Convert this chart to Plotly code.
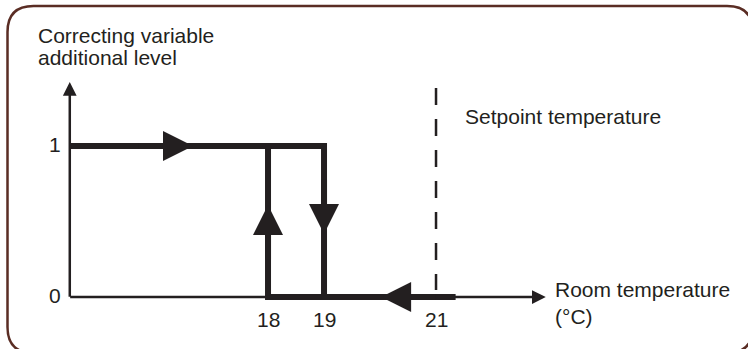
import plotly.graph_objects as go

W, H = 748, 349
FONT = "Liberation Sans, Arial, Helvetica, sans-serif"
INK = "#231f20"
FRAME = "#5a2d24"

# axis ranges picked so 1 °C = 56 px and one level = 151 px on the canvas
X_RANGE = [13.214, 26.571]
Y_RANGE = [-0.3444, 1.9669]

level_ticks = [0, 1]
level_labels = ["0", "1"]
temp_ticks = [18, 19, 21]
temp_labels = ["18", "19", "21"]

axis_x0 = 14.46        # where the level axis stands
x_axis_end = 22.96
y_axis_end = 1.424

# hysteresis loop
upper_x = [14.46, 19, 19]
upper_y = [1, 1, 0]
lower_x = [18, 18, 21.35]
lower_y = [1, 0, 0]

setpoint_x = [21, 21]
setpoint_y = [1.384, 0.046]

# direction arrows on the loop (tip position + direction)
arrow_x = [16.66, 18, 19, 20.02]
arrow_y = [1, 0.609, 0.417, 0]
arrow_dir = ["right", "up", "down", "left"]


def px(x):
    return x / W


def py(y):
    return 1 - y / H


def rounded_rect(x0, y0, x1, y1, r):
    pts = [
        f"M{px(x0 + r)},{py(y0)}", f"L{px(x1 - r)},{py(y0)}",
        f"Q{px(x1)},{py(y0)} {px(x1)},{py(y0 + r)}", f"L{px(x1)},{py(y1 - r)}",
        f"Q{px(x1)},{py(y1)} {px(x1 - r)},{py(y1)}", f"L{px(x0 + r)},{py(y1)}",
        f"Q{px(x0)},{py(y1)} {px(x0)},{py(y1 - r)}", f"L{px(x0)},{py(y0 + r)}",
        f"Q{px(x0)},{py(y0)} {px(x0 + r)},{py(y0)}", "Z",
    ]
    return " ".join(pts)


fig = go.Figure()

thick = dict(color=INK, width=6)
fig.add_trace(go.Scatter(x=upper_x, y=upper_y, mode="lines", line=thick, hoverinfo="skip"))
fig.add_trace(go.Scatter(x=lower_x, y=lower_y, mode="lines", line=thick, hoverinfo="skip"))
fig.add_trace(go.Scatter(x=setpoint_x, y=setpoint_y, mode="lines",
                         line=dict(color=INK, width=2.5, dash="17px,14px"), hoverinfo="skip"))

annotations = []

# axes drawn as arrows
annotations.append(dict(x=axis_x0, y=y_axis_end, ax=axis_x0, ay=-0.008,
                        xref="x", yref="y", axref="x", ayref="y", text="",
                        showarrow=True, arrowhead=2, arrowsize=1.1, arrowwidth=2.5,
                        arrowcolor=INK))
annotations.append(dict(x=x_axis_end, y=0, ax=axis_x0 - 0.02, ay=0,
                        xref="x", yref="y", axref="x", ayref="y", text="",
                        showarrow=True, arrowhead=2, arrowsize=1.1, arrowwidth=2.5,
                        arrowcolor=INK))

tail = {"right": (-1.0, 0), "left": (1.0, 0), "up": (0, -0.37), "down": (0, 0.37)}
for x, y, d in zip(arrow_x, arrow_y, arrow_dir):
    dx, dy = tail[d]
    annotations.append(dict(x=x, y=y, ax=x + dx, ay=y + dy,
                            xref="x", yref="y", axref="x", ayref="y", text="",
                            showarrow=True, arrowhead=2, arrowsize=1.0, arrowwidth=6,
                            arrowcolor=INK))

label_font = dict(family=FONT, size=21, color=INK)

for v, t in zip(level_ticks, level_labels):
    annotations.append(dict(x=px(63), y=v + 0.012, xref="paper", yref="y", text=t,
                            showarrow=False, xanchor="right", yanchor="middle",
                            font=label_font))
for v, t in zip(temp_ticks, temp_labels):
    annotations.append(dict(x=v, y=-0.146, xref="x", yref="y", text=t,
                            showarrow=False, xanchor="center", yanchor="middle",
                            font=label_font))

texts = [
    ("Correcting variable", 36, 35),
    ("additional level", 36, 57),
    ("Setpoint temperature", 463, 116),
    ("Room temperature", 553, 289),
    ("(°C)", 553, 316),
]
for t, x, y in texts:
    annotations.append(dict(x=px(x), y=py(y), xref="paper", yref="paper", text=t,
                            showarrow=False, xanchor="left", yanchor="middle",
                            font=label_font))

fig.update_layout(
    width=W,
    height=H,
    margin=dict(l=0, r=0, t=0, b=0),
    paper_bgcolor="white",
    plot_bgcolor="white",
    showlegend=False,
    xaxis=dict(range=X_RANGE, visible=False, fixedrange=True),
    yaxis=dict(range=Y_RANGE, visible=False, fixedrange=True),
    annotations=annotations,
    shapes=[dict(type="path", xref="paper", yref="paper",
                 path=rounded_rect(7.5, 6, 753, 353, 26),
                 line=dict(color=FRAME, width=2.5))],
)

fig.write_html("out.html", config={"displayModeBar": False},
               post_script="document.body.style.margin='0';")
